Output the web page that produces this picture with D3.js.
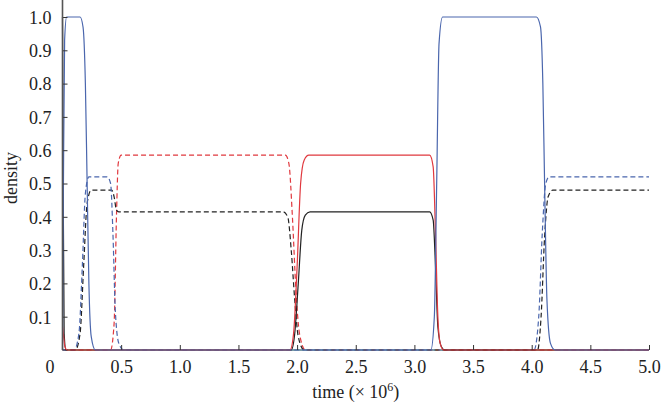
<!DOCTYPE html>
<html>
<head>
<meta charset="utf-8">
<script src="https://cdn.jsdelivr.net/npm/d3@7/dist/d3.min.js"></script>
<style>
  body { margin: 0; background: #fff; }
</style>
</head>
<body>
<div id="chart"></div>
<script>
// Values: [time (x 10^6), density]
var blueSolid = [[0, 0], [0.008, 0.5], [0.018, 0.93], [0.035, 1], [0.15, 1], [0.175, 0.97], [0.195, 0.8], [0.21, 0.5], [0.225, 0.2], [0.245, 0.04], [0.28, 0], [3.14, 0], [3.17, 0.1], [3.19, 0.5], [3.21, 0.92], [3.24, 1], [4.04, 1], [4.075, 0.97], [4.095, 0.8], [4.11, 0.5], [4.13, 0.15], [4.16, 0.02], [4.2, 0], [5, 0]];
var blueDashed = [[0, 0], [0.1, 0], [0.14, 0.05], [0.17, 0.26], [0.195, 0.47], [0.225, 0.52], [0.38, 0.52], [0.41, 0.5], [0.43, 0.35], [0.45, 0.12], [0.48, 0.02], [0.52, 0], [4.02, 0], [4.06, 0.1], [4.09, 0.35], [4.12, 0.5], [4.15, 0.52], [5, 0.52]];
var blackDashed = [[0, 0], [0.11, 0], [0.15, 0.05], [0.18, 0.25], [0.21, 0.44], [0.245, 0.48], [0.42, 0.48], [0.44, 0.46], [0.46, 0.42], [0.48, 0.415], [1.88, 0.415], [1.92, 0.4], [1.95, 0.3], [1.98, 0.15], [2.01, 0.04], [2.06, 0], [4.05, 0], [4.08, 0.1], [4.11, 0.34], [4.14, 0.46], [4.18, 0.48], [5, 0.48]];
var redDashed = [[0, 0], [0.41, 0], [0.44, 0.08], [0.46, 0.4], [0.475, 0.56], [0.5, 0.585], [1.9, 0.585], [1.93, 0.56], [1.96, 0.4], [1.99, 0.18], [2.02, 0.05], [2.07, 0], [5, 0]];
var redSolid = [[0, 0.07], [0.01, 0.04], [0.02, 0.01], [0.04, 0], [1.94, 0], [1.97, 0.05], [2.0, 0.25], [2.03, 0.5], [2.06, 0.57], [2.1, 0.585], [3.13, 0.585], [3.16, 0.55], [3.18, 0.35], [3.2, 0.1], [3.22, 0.02], [3.25, 0], [5, 0]];
var blackSolid = [[0, 1], [0.006, 0.5], [0.014, 0.05], [0.03, 0], [1.95, 0], [1.98, 0.05], [2.01, 0.2], [2.04, 0.36], [2.07, 0.405], [2.11, 0.415], [3.13, 0.415], [3.16, 0.39], [3.18, 0.25], [3.2, 0.07], [3.23, 0.01], [3.26, 0], [5, 0]];
var greenFlat = [[0, 0], [5, 0]];

var xTicks = [0.5, 1.0, 1.5, 2.0, 2.5, 3.0, 3.5, 4.0, 4.5, 5.0];
var yTicks = [0.1, 0.2, 0.3, 0.4, 0.5, 0.6, 0.7, 0.8, 0.9, 1.0];

var width = 662, height = 405;
var serif = "Liberation Serif";
var fontSize = "18px";
var svg = d3.select("#chart").append("svg").attr("width", width).attr("height", height);

var x = d3.scaleLinear().domain([0, 5]).range([62.5, 649]);
var y = d3.scaleLinear().domain([0, 1]).range([350, 17]);

var line = d3.line().x(d => x(d[0])).y(d => y(d[1])).curve(d3.curveMonotoneX);

// series, drawn back to front
var series = [
  { data: greenFlat, color: "#5aa544", dash: null },
  { data: redDashed, color: "#e0383e", dash: "5,3" },
  { data: blackDashed, color: "#222", dash: "5,3" },
  { data: blueDashed, color: "#4a66ad", dash: "5,3" },
  { data: blackSolid, color: "#222", dash: null },
  { data: redSolid, color: "#e0383e", dash: null },
  { data: blueSolid, color: "#4a66ad", dash: null }
];

svg.selectAll("path.series")
  .data(series)
  .enter()
  .append("path")
  .attr("class", "series")
  .attr("d", d => line(d.data))
  .attr("fill", "none")
  .attr("stroke", d => d.color)
  .attr("stroke-width", 1.2)
  .attr("stroke-dasharray", d => d.dash);

// y axis, ticks pointing inward
var yAxis = d3.axisRight(y).tickValues(yTicks).tickSize(5).tickFormat(d3.format(".1f"));
var gy = svg.append("g").attr("transform", "translate(" + x(0) + ",0)").call(yAxis);
gy.select(".domain").remove();
gy.selectAll(".tick line").attr("stroke", "#333");
gy.selectAll(".tick text")
  .attr("x", -11).attr("text-anchor", "end").attr("dy", "0.35em").attr("fill", "#222")
  .style("font-family", serif).style("font-size", fontSize);
svg.append("line")
  .attr("x1", x(0)).attr("x2", x(0))
  .attr("y1", 0).attr("y2", y(0))
  .attr("stroke", "#555").attr("stroke-width", 1.6);

// x axis, ticks pointing up
var xAxis = d3.axisTop(x).tickValues(xTicks).tickSize(5).tickFormat(d3.format(".1f"));
var gx = svg.append("g").attr("transform", "translate(0," + y(0) + ")").call(xAxis);
gx.select(".domain").remove();
gx.selectAll(".tick line").attr("stroke", "#333");
gx.selectAll(".tick text")
  .attr("y", 23).attr("dy", 0).attr("fill", "#222")
  .style("font-family", serif).style("font-size", fontSize);

svg.append("text").attr("x", 50).attr("y", 373).attr("text-anchor", "middle")
  .attr("fill", "#222").style("font-family", serif).style("font-size", fontSize).text("0");

// axis titles
var xt = svg.append("text")
  .attr("x", (x(0) + x(5)) / 2)
  .attr("y", 398)
  .attr("text-anchor", "middle")
  .attr("fill", "#222")
  .style("font-family", serif).style("font-size", fontSize)
  .text("time (\u00d7 10");
xt.append("tspan").attr("dy", -7).style("font-size", "12px").text("6");
xt.append("tspan").attr("dy", 7).text(")");

svg.append("text")
  .attr("transform", "translate(17,178) rotate(-90)")
  .attr("text-anchor", "middle")
  .attr("fill", "#222")
  .style("font-family", serif).style("font-size", fontSize)
  .text("density");
</script>
</body>
</html>
